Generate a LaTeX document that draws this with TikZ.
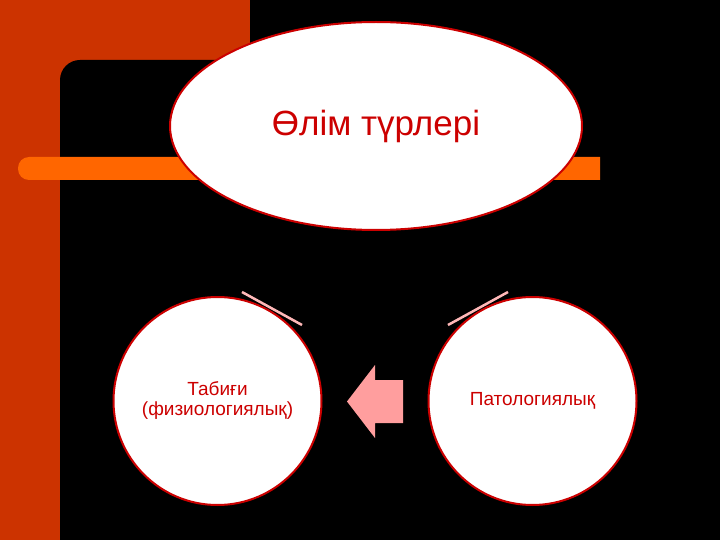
\documentclass[tikz,border=0pt]{standalone}
\usepackage{fontspec}
\setmainfont{Liberation Sans}
\usetikzlibrary{shapes,positioning,calc}
\definecolor{rust}{HTML}{CC3300}
\definecolor{barorange}{HTML}{FF6600}
\definecolor{darkred}{HTML}{CC0000}
\definecolor{lightpink}{HTML}{FF9E9E}
\definecolor{linkpink}{HTML}{FFB8B8}
\tikzstyle{title} = [ellipse, draw=darkred, fill=white, line width=2pt, minimum width=412pt, minimum height=208pt, inner sep=0pt, text=darkred, font=\fontsize{35}{40}\selectfont]
\tikzstyle{kind} = [circle, draw=darkred, fill=white, line width=2pt, minimum size=208pt, inner sep=0pt, text=darkred, align=center, font=\fontsize{19}{22}\selectfont]
\tikzstyle{link} = [linkpink, line width=2.5pt]

\begin{document}
\begin{tikzpicture}[x=1pt, y=-1pt]
    \useasboundingbox (0,0) rectangle (720,540);

    % background
    \fill[rust] (0,0) rectangle (720,540);
    \fill[black] (250,0) -- (720,0) -- (720,540) -- (60,540) [rounded corners=20pt] -- (60,60) [sharp corners] -- (250,60) -- cycle;
    \fill[barorange] (600,157) [rounded corners=11pt] -- (18,157) -- (18,180) [sharp corners] -- (600,180) -- cycle;

    % heading
    \node[title] (types) at (376,126) {\raisebox{-4pt}{Өлім түрлері}};

    % kinds of death
    \node[kind] (natural) at (217.5,401) {\raisebox{-2pt}{Табиғи}\\(физиологиялық)};
    \node[kind] (patho) [right=105pt of natural] {\raisebox{-3pt}{Патологиялық}};

    % arrow between the circles
    \fill[lightpink] (403,380) -- (375,380) -- (375,365) -- (347,401.5) -- (375,438) -- (375,423) -- (403,423) -- cycle;

    % links
    \coordinate (la) at (242,292);
    \coordinate (lb) at (302,325);
    \coordinate (ra) at (508,292);
    \coordinate (rb) at (448,325);
    \draw[link] (la) -- (lb);
    \draw[link] (ra) -- (rb);
\end{tikzpicture}
\end{document}
